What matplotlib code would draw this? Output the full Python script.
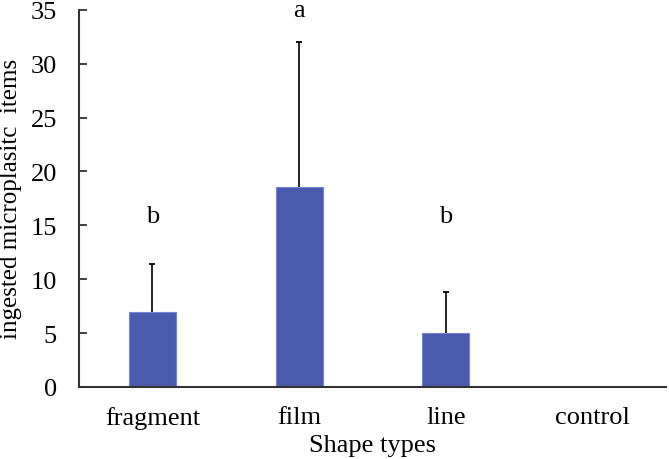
import matplotlib
matplotlib.use("Agg")
import matplotlib.pyplot as plt

# Data
shapes = ["fragment", "film", "line", "control"]
means = [7.0, 18.55, 5.05, 0.0]
err_up = [4.45, 13.5, 3.8, 0.0]
letters = ["b", "a", "b", ""]
letter_y = [15.9, 35.0, 15.9, 0]

plt.rcParams['font.family'] = ['Liberation Serif', 'DejaVu Serif']

fig = plt.figure(figsize=(6.69, 4.60), dpi=100)
ax = fig.add_axes([79 / 669, 1 - 388 / 460, (666 - 79) / 669, (388 - 10.7) / 460])

x = list(range(len(shapes)))
ax.bar(x, means, width=0.32, color="#4a5aad", edgecolor="#7584d2", linewidth=0.8, zorder=2)

# upper-only error bars with a single cap (control has none)
ex = [i for i in x if err_up[i] > 0]
tops = [means[i] + err_up[i] for i in ex]
ax.vlines(ex, [means[i] for i in ex], tops, color="black", lw=1.2, zorder=1)
ax.plot(ex, tops, ls="none", marker="_", markersize=5, mew=1.3, color="black", zorder=1)

for i, t in enumerate(letters):
    if t:
        ax.text(i, letter_y[i], t, ha="center", va="center", fontsize=19, clip_on=False)

ax.set_xlim(-0.5, 3.5)
ax.set_ylim(0, 35)
ax.set_yticks(range(0, 36, 5))
ax.set_xticks(x)
ax.set_xticklabels(shapes, fontsize=19)
ax.tick_params(axis="y", direction="in", length=5.5, width=1.3, labelsize=19, pad=16, color="#333333")
ax.tick_params(axis="x", length=0, pad=14)

for s in ["top", "right"]:
    ax.spines[s].set_visible(False)
for s in ["left", "bottom"]:
    ax.spines[s].set_linewidth(1.5)
    ax.spines[s].set_color("#333333")

ax.set_ylabel("ingested microplasitc  items", fontsize=18, labelpad=6)
ax.set_xlabel("Shape types", fontsize=19, labelpad=3)

fig.savefig("out.png", dpi=100)
